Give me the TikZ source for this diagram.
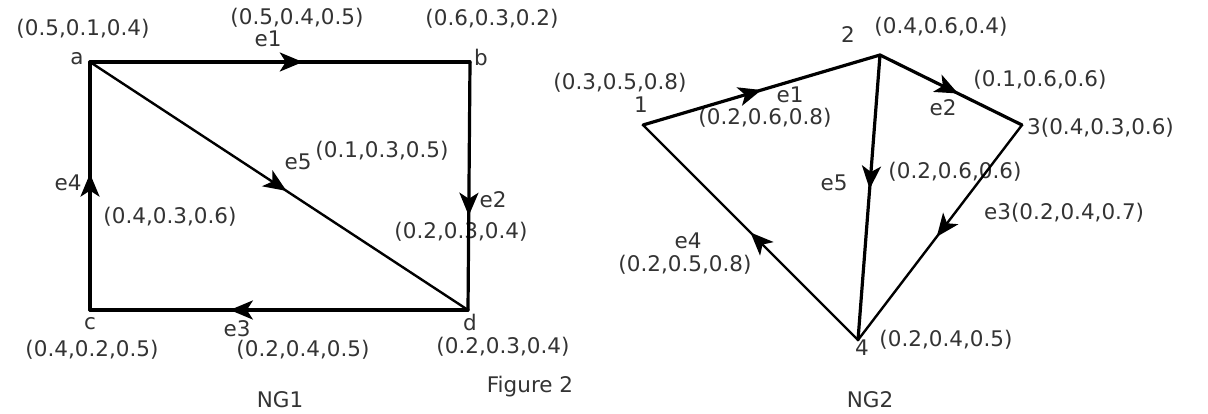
\documentclass[tikz,border=0pt]{standalone}
\usepackage{fontspec}
\setmainfont{DejaVu Sans}
\usetikzlibrary{arrows.meta,decorations.markings}

\begin{document}
\begin{tikzpicture}[
  x=1pt, y=-1pt,
  lbl/.style={text=black!80, font=\fontsize{21.5}{25}\selectfont, inner sep=0pt},
  edge/.style={line width=3.2pt, line cap=round},
  thinedge/.style={line width=2.4pt, line cap=round},
  midtip/.style={postaction={decorate}, decoration={markings,
      mark=at position #1 with {\arrow{Stealth[length=23pt,width=19pt,inset=6pt]}}}}
]
\useasboundingbox (0,0) rectangle (1208,414);

% NG1
\coordinate (a) at (90,62);
\coordinate (b) at (470,62);
\coordinate (c) at (90,310);
\coordinate (d) at (468,310);

\node[lbl] (la) at (77,59) {a};
\node[lbl] (lb) at (481,57) {b};
\node[lbl] (lc) at (90,324) {c};
\node[lbl] (ld) at (470,322) {d};
\node[lbl] (wa) at (83,29) {(0.5,0.1,0.4)};
\node[lbl] (wb) at (492,19) {(0.6,0.3,0.2)};
\node[lbl] (wc) at (92,350) {(0.4,0.2,0.5)};
\node[lbl] (wd) at (503,347) {(0.2,0.3,0.4)};
\node[lbl] (e1) at (268,39) {e1};
\node[lbl] (we1) at (297,18) {(0.5,0.4,0.5)};
\node[lbl] (e2) at (493,200) {e2};
\node[lbl] (we2) at (461,232) {(0.2,0.3,0.4)};
\node[lbl] (e3) at (237,329) {e3};
\node[lbl] (we3) at (303,350) {(0.2,0.4,0.5)};
\node[lbl] (e4) at (68,183) {e4};
\node[lbl] (we4) at (170,217) {(0.4,0.3,0.6)};
\node[lbl] (e5) at (298,162) {e5};
\node[lbl] (we5) at (382,151) {(0.1,0.3,0.5)};
\node[lbl] (fig) at (530,387) {Figure 2};
\node[lbl] (ng1) at (280,400) {NG1};

\draw[edge, midtip=0.56] (a) -- (b);
\draw[edge, midtip=0.62] (b) -- (d);
\draw[edge, midtip=0.63] (d) -- (c);
\draw[edge, midtip=0.55] (c) -- (a);
\draw[thinedge, midtip=0.52] (a) -- (d);

% NG2
\coordinate (n1) at (643,125);
\coordinate (n2) at (880,55);
\coordinate (n3) at (1022,125);
\coordinate (n4) at (858,340);

\node[lbl] (l1) at (641,105) {1};
\node[lbl] (w1) at (620,83) {(0.3,0.5,0.8)};
\node[lbl] (l2) at (848,35) {2};
\node[lbl] (w2) at (941,27) {(0.4,0.6,0.4)};
\node[lbl, anchor=west] (w3) at (1027,128) {3(0.4,0.3,0.6)};
\node[lbl] (l4) at (862,348) {4};
\node[lbl] (w4) at (946,340) {(0.2,0.4,0.5)};
\node[lbl] (f1) at (790,95) {e1};
\node[lbl] (wf1) at (765,118) {(0.2,0.6,0.8)};
\node[lbl] (f2) at (943,108) {e2};
\node[lbl] (wf2) at (1040,80) {(0.1,0.6,0.6)};
\node[lbl, anchor=west] (f3) at (984,213) {e3(0.2,0.4,0.7)};
\node[lbl] (f4) at (688,241) {e4};
\node[lbl] (wf4) at (685,265) {(0.2,0.5,0.8)};
\node[lbl] (f5) at (834,183) {e5};
\node[lbl] (wf5) at (955,172) {(0.2,0.6,0.6)};
\node[lbl] (ng2) at (870,400) {NG2};

\draw[edge, midtip=0.5] (n1) -- (n2);
\draw[edge, midtip=0.55] (n2) -- (n3);
\draw[edge, midtip=0.47] (n2) -- (n4);
\draw[thinedge, midtip=0.52] (n3) -- (n4);
\draw[thinedge, midtip=0.5] (n4) -- (n1);
\end{tikzpicture}
\end{document}
